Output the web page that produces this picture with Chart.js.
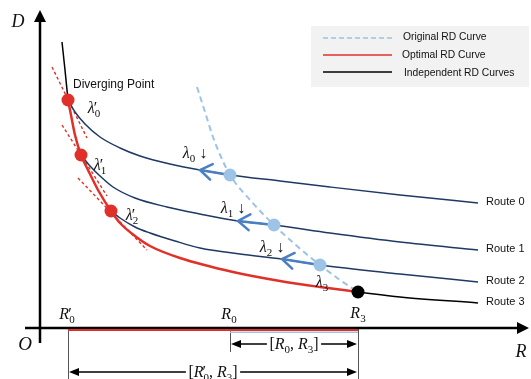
<!DOCTYPE html>
<html><head><meta charset="utf-8">
<script src="https://cdn.jsdelivr.net/npm/chart.js@4/dist/chart.umd.min.js"></script>
<style>html,body{margin:0;padding:0;background:#fff;}#wrap{width:531px;height:379px;}</style>
</head><body><div id="wrap"><canvas id="c" width="531" height="379"></canvas></div>
<script>
// ---- data (R = rate, D = distortion, arbitrary units) ----
const route0Upper = [[2.2,28.6],[2.5,25.8],[2.8,22.8]];
const route0 = [[2.8,22.8],[3.5,21.6],[4.5,20.4],[6.0,19.1],[8.0,18.0],[10.0,17.2],[13.0,16.4],[16.0,15.8],[19.0,15.3],[24.0,14.7],[29.0,14.1],[36.0,13.3],[43.8,12.5]];
const route1 = [[4.1,17.3],[5.0,16.2],[6.0,15.2],[7.3,14.1],[9.5,13.0],[12.7,12.1],[16.0,11.4],[19.8,10.7],[23.4,10.3],[29.0,9.5],[36.0,8.6],[43.8,7.8]];
const route2 = [[7.1,11.7],[8.0,11.0],[9.5,10.1],[11.0,9.5],[13.5,8.7],[16.0,8.0],[20.0,7.4],[24.2,6.9],[28.0,6.3],[36.0,5.4],[43.8,4.6]];
const route3 = [[31.8,3.6],[36.0,3.1],[43.8,2.5]];
const optimalRD = [[2.8,22.8],[3.1,21.3],[3.5,19.3],[4.1,17.3],[4.8,15.8],[5.8,13.8],[7.1,11.7],[8.0,10.5],[9.5,9.2],[11.0,8.2],[14.0,7.0],[19.3,5.6],[24.0,4.7],[28.0,4.1],[31.8,3.6]];
const originalRD = [[15.7,24.1],[16.5,21.6],[17.3,19.1],[18.1,17.1],[19.0,15.3],[21.1,12.7],[23.4,10.3],[25.7,8.2],[28.0,6.3],[30.0,4.8],[31.8,3.6]];
const tangents = [[[1.2,26.1],[4.7,19.0]],[[2.2,20.3],[6.7,13.2]],[[3.8,15.0],[10.7,7.8]]];
const divergingPts = [[2.8,22.8],[4.1,17.3],[7.1,11.7]];
const originalPts = [[19.0,15.3],[23.4,10.3],[28.0,6.3]];
const endPt = [[31.8,3.6]];
const lambdaArrows = [[[19.0,15.3],[16.0,15.8]],[[23.4,10.3],[19.8,10.7]],[[28.0,6.3],[24.2,6.9]]];
const rateMarks = {R0p:2.8, R0:19.0, R3:31.8};
const routeNames = ['Route 0','Route 1','Route 2','Route 3'];
const legendLabels = ['Original RD Curve','Optimal RD Curve','Independent RD Curves'];
const rAxisRange = [-1.5, 48.9];
const dAxisRange = [-1.5, 31.8];

const P = a => a.map(([x,y]) => ({x,y}));
const SERIF = '"Liberation Serif","DejaVu Serif",serif';
const SANS = '"Liberation Sans",Arial,sans-serif';
const NAVY = '#1f3864', RED = '#e0302a', LBLUE = '#9dc3e6', ABLUE = '#4a7fc1';

function lineDS(data, color, width, order, dash){
  return {data:P(data), showLine:true, borderColor:color, borderWidth:width, pointRadius:0,
    cubicInterpolationMode:'monotone', fill:false, order, borderDash:dash||[], clip:false};
}
const datasets = [
  {data:P(divergingPts), showLine:false, pointRadius:6.5, backgroundColor:RED, borderWidth:0, order:0, clip:false},
  {data:P(originalPts), showLine:false, pointRadius:6.5, backgroundColor:LBLUE, borderWidth:0, order:0, clip:false},
  {data:P(endPt), showLine:false, pointRadius:6.5, backgroundColor:'#000', borderWidth:0, order:0, clip:false},
  ...lambdaArrows.map(a => lineDS(a, ABLUE, 2.5, 1)),
  lineDS(optimalRD, RED, 2.5, 2),
  lineDS(route0Upper, '#000', 1.5, 3),
  lineDS(route0, NAVY, 1.5, 3),
  lineDS(route1, NAVY, 1.5, 3),
  lineDS(route2, NAVY, 1.5, 3),
  lineDS(route3, '#000', 1.5, 3),
  lineDS(originalRD, LBLUE, 2, 4, [6,4]),
  ...tangents.map(t => lineDS(t, RED, 1.4, 5, [3,2.5])),
];

function segFont(s, size){
  if (s === 'i') return `italic ${size}px ${SERIF}`;
  if (s === 'sub') return `${Math.round(size*0.68)}px ${SERIF}`;
  return `${size}px ${SERIF}`;
}
function segW(ctx, g, size){
  ctx.font = segFont(g.s, size);
  let w = ctx.measureText(g.t).width;
  if (g.prime){ ctx.font = `${size}px ${SERIF}`; w = Math.max(w, ctx.measureText('\u2032').width); }
  return w;
}
function drawRich(ctx, segs, cx, cy, size){
  let total = 0; for (const g of segs) total += segW(ctx,g,size);
  let x = cx - total/2;
  const base = cy + size*0.33;
  ctx.textBaseline = 'alphabetic'; ctx.textAlign = 'left';
  for (const g of segs){
    const w = segW(ctx,g,size);
    ctx.font = segFont(g.s,size);
    ctx.fillText(g.t, x, base + (g.s==='sub' ? size*0.22 : 0));
    if (g.prime){ ctx.font = `${size}px ${SERIF}`; ctx.fillText('\u2032', x-1, base - size*0.02); }
    x += w;
  }
  return {left: cx-total/2, right: cx+total/2};
}
function fillArrow(ctx, x, y, dx, dy, len, half){
  const n = Math.hypot(dx,dy); const ux = dx/n, uy = dy/n;
  ctx.beginPath();
  ctx.moveTo(x, y);
  ctx.lineTo(x - ux*len - uy*half, y - uy*len + ux*half);
  ctx.lineTo(x - ux*len + uy*half, y - uy*len - ux*half);
  ctx.closePath(); ctx.fill();
}

const diagram = {
  id:'diagram',
  beforeDatasetsDraw(chart){
    const {ctx, scales:{x, y}} = chart;
    const X = v => x.getPixelForValue(v), Y = v => y.getPixelForValue(v);
    ctx.save();
    // legend box
    ctx.fillStyle = '#f2f2f2'; ctx.fillRect(311, 26, 218, 61);
    const ly = [38, 55, 72];
    ctx.lineWidth = 1.5;
    ctx.strokeStyle = LBLUE; ctx.setLineDash([5,3]);
    ctx.beginPath(); ctx.moveTo(323, ly[0]); ctx.lineTo(392, ly[0]); ctx.stroke();
    ctx.setLineDash([]);
    ctx.strokeStyle = RED; ctx.beginPath(); ctx.moveTo(323, ly[1]); ctx.lineTo(392, ly[1]); ctx.stroke();
    ctx.strokeStyle = '#000'; ctx.beginPath(); ctx.moveTo(323, ly[2]); ctx.lineTo(392, ly[2]); ctx.stroke();
    ctx.fillStyle = '#111'; ctx.font = `10.3px ${SANS}`; ctx.textBaseline = 'middle'; ctx.textAlign='left';
    ctx.fillText(legendLabels[0], 403, 37);
    ctx.fillText(legendLabels[1], 402, 55);
    ctx.fillText(legendLabels[2], 404, 73);
    // vertical guide lines
    ctx.strokeStyle = '#555'; ctx.lineWidth = 1;
    const yb = chart.height;
    [[rateMarks.R0p, yb],[rateMarks.R3, yb],[rateMarks.R0, Y(0)+24]].forEach(([r,b])=>{
      ctx.beginPath(); ctx.moveTo(Math.round(X(r))+0.5, Y(0)); ctx.lineTo(Math.round(X(r))+0.5, b); ctx.stroke();
    });
    // axes
    ctx.strokeStyle = '#000'; ctx.fillStyle = '#000'; ctx.lineWidth = 2.5;
    ctx.beginPath(); ctx.moveTo(X(rAxisRange[0]), Y(0)); ctx.lineTo(X(rAxisRange[1])-8, Y(0)); ctx.stroke();
    fillArrow(ctx, X(rAxisRange[1]), Y(0), 1, 0, 12, 6);
    ctx.beginPath(); ctx.moveTo(X(0), Y(dAxisRange[0])); ctx.lineTo(X(0), Y(dAxisRange[1])+8); ctx.stroke();
    fillArrow(ctx, X(0), Y(dAxisRange[1]), 0, -1, 12, 6);
    // rate intervals on axis
    ctx.lineWidth = 2; ctx.strokeStyle = RED;
    ctx.beginPath(); ctx.moveTo(X(rateMarks.R0p), Y(0)+2); ctx.lineTo(X(rateMarks.R3), Y(0)+2); ctx.stroke();
    ctx.lineWidth = 1.6; ctx.strokeStyle = LBLUE;
    ctx.beginPath(); ctx.moveTo(X(rateMarks.R0), Y(0)+4.3); ctx.lineTo(X(rateMarks.R3), Y(0)+4.3); ctx.stroke();
    ctx.restore();
  },
  afterDatasetsDraw(chart){
    const {ctx, scales:{x, y}} = chart;
    const X = v => x.getPixelForValue(v), Y = v => y.getPixelForValue(v);
    ctx.save();
    // lambda arrowheads (open chevrons)
    ctx.strokeStyle = ABLUE; ctx.lineWidth = 2.5; ctx.lineCap = 'round';
    lambdaArrows.forEach(([a,b])=>{
      const x1=X(a[0]), y1=Y(a[1]), x2=X(b[0]), y2=Y(b[1]);
      const ang = Math.atan2(y1-y2, x1-x2);
      const L = 14, sp = 0.6;
      ctx.beginPath();
      ctx.moveTo(x2 + L*Math.cos(ang+sp), y2 + L*Math.sin(ang+sp));
      ctx.lineTo(x2, y2);
      ctx.lineTo(x2 + L*Math.cos(ang-sp), y2 + L*Math.sin(ang-sp));
      ctx.stroke();
    });
    ctx.fillStyle = '#111';
    // axis names
    drawRich(ctx, [{t:'D', s:'i'}], 18, 21, 18);
    drawRich(ctx, [{t:'O', s:'i'}], 25, 344, 19);
    drawRich(ctx, [{t:'R', s:'i'}], 521, 351, 18);
    // rate labels
    drawRich(ctx, [{t:'R', s:'i'},{t:'0', s:'sub', prime:true}], X(rateMarks.R0p)-1, Y(0)-14, 16);
    drawRich(ctx, [{t:'R', s:'i'},{t:'0', s:'sub'}], X(rateMarks.R0)-1, Y(0)-14, 16);
    drawRich(ctx, [{t:'R', s:'i'},{t:'3', s:'sub'}], X(rateMarks.R3), Y(0)-15, 16);
    // diverging point labels
    ctx.font = `12px ${SANS}`; ctx.textBaseline='middle'; ctx.textAlign='left';
    ctx.fillText('Diverging Point', X(divergingPts[0][0])+5, Y(divergingPts[0][1])-15);
    const lp = [[26,8],[19,10],[21,4]];
    divergingPts.forEach((p,i)=>{
      drawRich(ctx, [{t:'\u03bb', s:'i'},{t:String(i), s:'sub', prime:true}], X(p[0])+lp[i][0], Y(p[1])+lp[i][1], 16);
    });
    const lo = [[-35,-22],[-41,-17],[-48,-18]];
    originalPts.forEach((p,i)=>{
      drawRich(ctx, [{t:'\u03bb', s:'i'},{t:String(i), s:'sub'},{t:' \u2193', s:'n'}], X(p[0])+lo[i][0], Y(p[1])+lo[i][1], 16);
    });
    drawRich(ctx, [{t:'\u03bb', s:'i'},{t:'3', s:'sub'}], X(originalPts[2][0])+2, Y(originalPts[2][1])+17, 16);
    // route labels
    ctx.font = `11px ${SANS}`; ctx.textBaseline='middle'; ctx.textAlign='left'; ctx.fillStyle='#111';
    [route0, route1, route2, route3].forEach((r,i)=>{
      const e = r[r.length-1];
      ctx.fillText(routeNames[i], X(e[0])+8, Y(e[1])-1);
    });
    // interval dimension arrows
    ctx.strokeStyle = '#000'; ctx.fillStyle = '#000'; ctx.lineWidth = 1.5;
    function dim(r1, r2, yy, segs){
      ctx.fillStyle = '#111';
      const cx = (X(r1)+X(r2))/2;
      const b = drawRich(ctx, segs, cx, yy, 16);
      ctx.fillStyle = '#000';
      ctx.beginPath(); ctx.moveTo(b.left-3, yy); ctx.lineTo(X(r1)+8, yy); ctx.stroke();
      fillArrow(ctx, X(r1)+1, yy, -1, 0, 10, 4);
      ctx.beginPath(); ctx.moveTo(b.right+3, yy); ctx.lineTo(X(r2)-8, yy); ctx.stroke();
      fillArrow(ctx, X(r2)-1, yy, 1, 0, 10, 4);
    }
    dim(rateMarks.R0, rateMarks.R3, Y(0)+16, [{t:'[', s:'n'},{t:'R', s:'i'},{t:'0', s:'sub'},{t:', ', s:'n'},{t:'R', s:'i'},{t:'3', s:'sub'},{t:']', s:'n'}]);
    dim(rateMarks.R0p, rateMarks.R3, Y(0)+44, [{t:'[', s:'n'},{t:'R', s:'i'},{t:'0', s:'sub', prime:true},{t:', ', s:'n'},{t:'R', s:'i'},{t:'3', s:'sub'},{t:']', s:'n'}]);
    ctx.restore();
  }
};

new Chart(document.getElementById('c'), {
  type:'scatter',
  data:{datasets},
  options:{
    responsive:false, animation:false,
    layout:{padding:0, autoPadding:false},
    plugins:{legend:{display:false}, tooltip:{enabled:false}},
    scales:{
      x:{type:'linear', min:-4, max:49.1, display:false},
      y:{type:'linear', min:-5.1, max:32.8, display:false}
    }
  },
  plugins:[diagram]
});
</script></body></html>
